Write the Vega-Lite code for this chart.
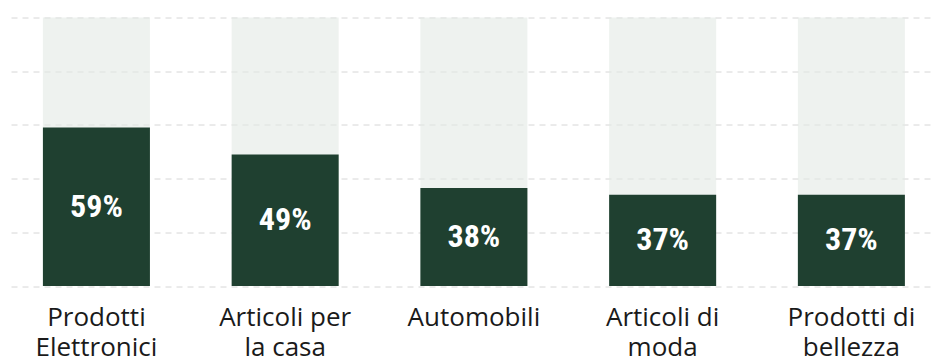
{
  "$schema": "https://vega.github.io/schema/vega-lite/v6.json",
  "width": 920,
  "height": 268.5,
  "autosize": {"type": "none"},
  "padding": {"left": 11, "top": 17.5, "right": 0, "bottom": 77},
  "background": "white",
  "config": {"view": {"stroke": null}},
  "data": {
    "values": [
      {"category": "Prodotti\nElettronici", "value": 59, "pct": "59%"},
      {"category": "Articoli per\nla casa", "value": 49, "pct": "49%"},
      {"category": "Automobili", "value": 36.5, "pct": "38%"},
      {"category": "Articoli di\nmoda", "value": 34, "pct": "37%"},
      {"category": "Prodotti di\nbellezza", "value": 34, "pct": "37%"}
    ]
  },
  "encoding": {
    "x": {
      "field": "category",
      "type": "nominal",
      "sort": null,
      "scale": {"paddingInner": 0.433, "paddingOuter": 0.1537, "align": 0.55},
      "axis": {
        "title": null,
        "domain": false,
        "ticks": false,
        "labelAngle": 0,
        "labelFont": "Open Sans",
        "labelFontSize": 26,
        "labelColor": "#1a1a1a",
        "labelPadding": 18,
        "labelLineHeight": 30,
        "labelLimit": 0,
        "labelExpr": "split(datum.label, '\\n')"
      }
    }
  },
  "layer": [
    {
      "mark": {"type": "bar", "color": "#e2eae4", "opacity": 0.6},
      "encoding": {
        "y": {
          "datum": 100,
          "type": "quantitative",
          "scale": {"domain": [0, 100], "nice": false},
          "axis": {
            "title": null,
            "domain": false,
            "ticks": false,
            "labels": false,
            "values": [0, 20, 40, 60, 80, 100],
            "grid": true,
            "gridColor": "#d6d6d6",
            "gridWidth": 1,
            "gridDash": [6, 5]
          }
        }
      }
    },
    {
      "mark": {"type": "bar", "color": "#1f4030"},
      "encoding": {"y": {"field": "value", "type": "quantitative"}}
    },
    {
      "transform": [{"calculate": "datum.value / 2", "as": "mid"}],
      "mark": {
        "type": "text",
        "color": "white",
        "font": "Roboto Condensed, Roboto",
        "fontWeight": "bold",
        "fontSize": 32,
        "baseline": "middle",
        "align": "center"
      },
      "encoding": {
        "y": {"field": "mid", "type": "quantitative"},
        "text": {"field": "pct"}
      }
    }
  ]
}
